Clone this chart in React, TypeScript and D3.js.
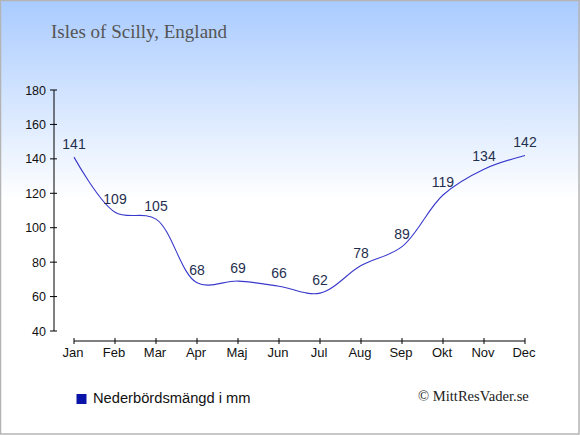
import React from "react";
import * as d3 from "d3";

const title = "Isles of Scilly, England";
const months = ["Jan", "Feb", "Mar", "Apr", "Maj", "Jun", "Jul", "Aug", "Sep", "Okt", "Nov", "Dec"];
const precipitation = [141, 109, 105, 68, 69, 66, 62, 78, 89, 119, 134, 142];
const yTicks = [40, 60, 80, 100, 120, 140, 160, 180];
const legendLabel = "Nederbördsmängd i mm";
const credit = "© MittResVader.se";

const W = 580;
const H = 435;

export default function App() {
  const x = d3.scalePoint<string>().domain(months).range([74, 525]);
  const y = d3.scaleLinear().domain([40, 180]).range([331, 90]);
  const line = d3
    .line<number>()
    .x((_, i) => x(months[i]) as number)
    .y((d) => y(d))
    .curve(d3.curveCatmullRom.alpha(0.5));
  const sans = "'Liberation Sans', Arial, sans-serif";
  const serif = "'Liberation Serif', 'Times New Roman', serif";
  return (
    <svg width={W} height={H} style={{ position: "absolute", left: 0, top: 0 }}>
      <defs>
        <linearGradient id="bg" x1="0" y1="0" x2="0" y2={H} gradientUnits="userSpaceOnUse">
          <stop offset="0" stopColor="#a9cbff" />
          <stop offset={200 / H} stopColor="#ffffff" />
          <stop offset="1" stopColor="#ffffff" />
        </linearGradient>
      </defs>
      <rect x={0} y={0} width={W} height={H} fill="url(#bg)" />
      <rect x={0.5} y={0.5} width={W - 1.5} height={H - 1.5} fill="none" stroke="#b4b4b4" strokeWidth={1.5} />
      <text x={51} y={38} fontFamily={serif} fontSize={19} fill="#555555">
        {title}
      </text>
      {/* y axis */}
      <line x1={54} x2={54} y1={y(180)} y2={y(40)} stroke="#000" />
      {yTicks.map((t) => (
        <g key={t}>
          <line x1={50} x2={57} y1={y(t)} y2={y(t)} stroke="#000" />
          <text x={46} y={y(t) + 4.5} textAnchor="end" fontFamily={sans} fontSize={12.5} fill="#111">
            {t}
          </text>
        </g>
      ))}
      {/* x axis */}
      <line x1={x(months[0])} x2={x(months[months.length - 1])} y1={341} y2={341} stroke="#000" />
      {months.map((m) => (
        <g key={m}>
          <line x1={x(m)} x2={x(m)} y1={338} y2={344} stroke="#000" />
          <text x={(x(m) as number) - 1} y={357} textAnchor="middle" fontFamily={sans} fontSize={13} fill="#111">
            {m}
          </text>
        </g>
      ))}
      <path d={line(precipitation) || ""} fill="none" stroke="#3838cc" strokeWidth={1.1} />
      {precipitation.map((v, i) => (
        <text
          key={i}
          x={x(months[i]) as number}
          y={y(v) - 8}
          textAnchor="middle"
          fontFamily={sans}
          fontSize={14}
          fill="#1f2f4f"
        >
          {v}
        </text>
      ))}
      {/* legend */}
      <rect x={76.5} y={394} width={10} height={10} fill="#0a14a8" />
      <text x={93} y={403} fontFamily={sans} fontSize={14.7} fill="#111">
        {legendLabel}
      </text>
      <text x={418} y={401} fontFamily={serif} fontSize={14.6} fill="#222">
        {credit}
      </text>
    </svg>
  );
}
